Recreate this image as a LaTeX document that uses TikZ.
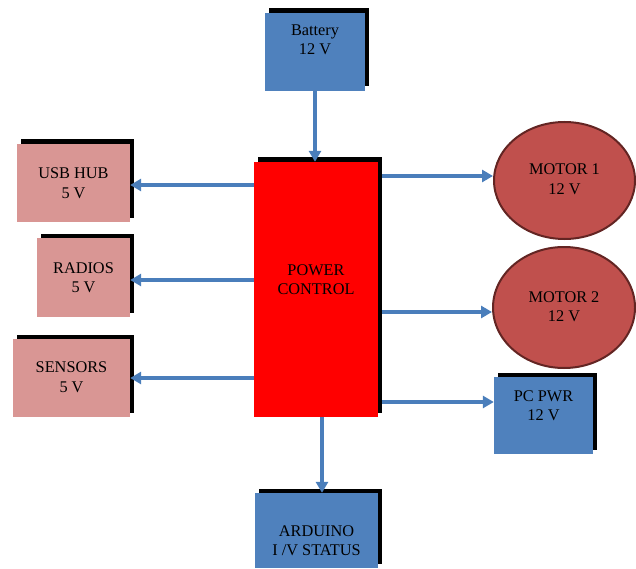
\documentclass[tikz,border=0pt]{standalone}
\usepackage{fontspec}
\setmainfont{Liberation Serif}
\newfontfamily\tnr{Liberation Serif}
\usetikzlibrary{shadows,arrows.meta,calc,shapes.geometric}
\definecolor{boxblue}{HTML}{4F81BD}
\definecolor{boxpink}{HTML}{D99694}
\definecolor{motorred}{HTML}{C0504D}
\definecolor{motorline}{HTML}{632523}
\definecolor{arrowblue}{HTML}{4A7EBB}
\tikzset{
  box/.style={rectangle, draw=none, inner sep=0pt,
    general shadow={fill=black, shadow xshift=4pt, shadow yshift=4.5pt}},
  bluebox/.style={box, fill=boxblue},
  pinkbox/.style={box, fill=boxpink},
  redbox/.style={box, fill=red},
  motor/.style={ellipse, fill=motorred, draw=motorline, line width=2pt, inner sep=0pt},
  txt/.style={align=center, font=\tnr\fontsize{16.3}{19.5}\selectfont, text=black, inner sep=0pt},
  arr/.style={draw=arrowblue, line width=3.5pt, -{Triangle[length=11pt,width=12pt]}},
}
\begin{document}
\begin{tikzpicture}[x=1pt,y=-1pt]
\useasboundingbox (0,0) rectangle (636,569);
% nodes
\node[bluebox, minimum width=100pt, minimum height=78pt,
  label={[txt, yshift=12pt]center:Battery\\12 V}] (bat) at (315,52) {};
\node[redbox, minimum width=124pt, minimum height=255pt,
  label={[txt, yshift=10pt]center:POWER\\CONTROL}] (pc) at (316,289.5) {};
\node[pinkbox, minimum width=113pt, minimum height=78pt,
  label={[txt]center:USB HUB\\5 V}] (usb) at (73.5,183) {};
\node[pinkbox, minimum width=93pt, minimum height=79pt,
  label={[txt]center:RADIOS\\5 V}] (rad) at (83.5,277.5) {};
\node[pinkbox, minimum width=117pt, minimum height=78pt,
  label={[txt, yshift=1pt]center:SENSORS\\5 V}] (sen) at (71.5,378) {};
\node[motor, minimum width=141pt, minimum height=117pt,
  label={[txt, yshift=1.5pt]center:MOTOR 1\\12 V}] (m1) at (564.5,180.5) {};
\node[motor, minimum width=142pt, minimum height=121pt,
  label={[txt, yshift=1pt]center:MOTOR 2\\12 V}] (m2) at (564,307.5) {};
\node[bluebox, minimum width=99pt, minimum height=77pt,
  label={[txt, yshift=10pt]center:PC PWR\\12 V}] (pcp) at (543.5,415.5) {};
\node[bluebox, minimum width=123pt, minimum height=75pt,
  label={[txt, yshift=-10pt]center:ARDUINO\\I /V STATUS}] (ard) at (316.5,530.5) {};
% helper coordinates
\coordinate (m1in) at ([yshift=4.5pt]m1.west);
\coordinate (m2in) at ([yshift=-4.5pt]m2.west);
\coordinate (pcpin) at ([yshift=13.5pt]pcp.west);
\coordinate (pcdown) at ([xshift=6pt]pc.south);
\coordinate (usbin) at ([yshift=-2pt]usb.east);
\coordinate (radin) at ([yshift=-2.5pt]rad.east);
% connectors
\draw[arr] (bat.south) -- (bat.south |- pc.north);
\draw[arr] (pc.west |- usbin) -- (usbin);
\draw[arr] (pc.west |- radin) -- (radin);
\draw[arr] (pc.west |- sen.east) -- (sen.east);
\draw[arr] ([xshift=4pt]pc.east |- m1in) -- (m1in);
\draw[arr] ([xshift=4pt]pc.east |- m2in) -- (m2in);
\draw[arr] ([xshift=4pt]pc.east |- pcpin) -- (pcpin);
\draw[arr] (pcdown) -- (pcdown |- ard.north);
\end{tikzpicture}
\end{document}
